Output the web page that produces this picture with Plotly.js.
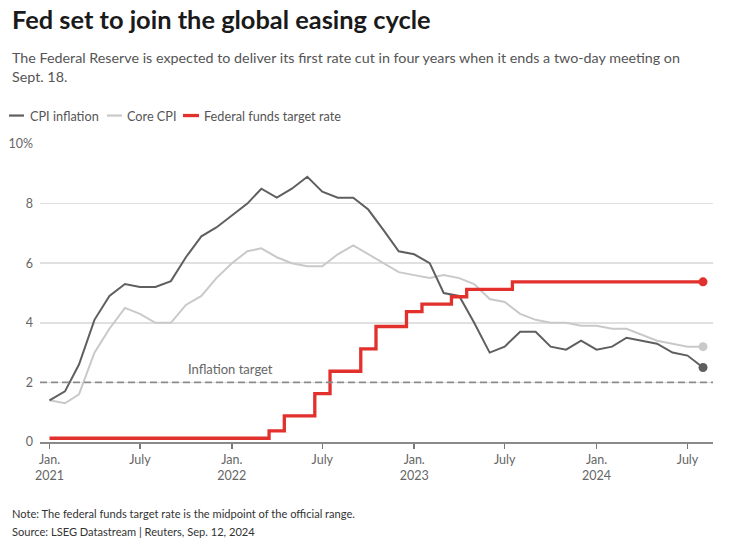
<!DOCTYPE html>
<html>
<head>
<meta charset="utf-8">
<script src="https://cdn.plot.ly/plotly-3.0.1.min.js"></script>
<style>
html,body{margin:0;padding:0;background:#fff;}
#chart{width:755px;height:548px;}
</style>
</head>
<body>
<div id="chart"></div>
<script>
const months = [
  "2021-01-01","2021-02-01","2021-03-01","2021-04-01","2021-05-01","2021-06-01",
  "2021-07-01","2021-08-01","2021-09-01","2021-10-01","2021-11-01","2021-12-01",
  "2022-01-01","2022-02-01","2022-03-01","2022-04-01","2022-05-01","2022-06-01",
  "2022-07-01","2022-08-01","2022-09-01","2022-10-01","2022-11-01","2022-12-01",
  "2023-01-01","2023-02-01","2023-03-01","2023-04-01","2023-05-01","2023-06-01",
  "2023-07-01","2023-08-01","2023-09-01","2023-10-01","2023-11-01","2023-12-01",
  "2024-01-01","2024-02-01","2024-03-01","2024-04-01","2024-05-01","2024-06-01",
  "2024-07-01","2024-08-01"
];
const cpiInflation = [
  1.4, 1.7, 2.6, 4.1, 4.9, 5.3, 5.2, 5.2, 5.4, 6.2, 6.9, 7.2,
  7.6, 8.0, 8.5, 8.2, 8.5, 8.9, 8.4, 8.2, 8.2, 7.8, 7.1, 6.4,
  6.3, 6.0, 5.0, 4.9, 4.0, 3.0, 3.2, 3.7, 3.7, 3.2, 3.1, 3.4,
  3.1, 3.2, 3.5, 3.4, 3.3, 3.0, 2.9, 2.5
];
const coreCpi = [
  1.4, 1.3, 1.6, 3.0, 3.8, 4.5, 4.3, 4.0, 4.0, 4.6, 4.9, 5.5,
  6.0, 6.4, 6.5, 6.2, 6.0, 5.9, 5.9, 6.3, 6.6, 6.3, 6.0, 5.7,
  5.6, 5.5, 5.6, 5.5, 5.3, 4.8, 4.7, 4.3, 4.1, 4.0, 4.0, 3.9,
  3.9, 3.8, 3.8, 3.6, 3.4, 3.3, 3.2, 3.2
];
const fedFundsRate = [
  0.125, 0.125, 0.125, 0.125, 0.125, 0.125, 0.125, 0.125, 0.125, 0.125, 0.125, 0.125,
  0.125, 0.125, 0.125, 0.375, 0.875, 0.875, 1.625, 2.375, 2.375, 3.125, 3.875, 3.875,
  4.375, 4.625, 4.625, 4.875, 5.125, 5.125, 5.125, 5.375, 5.375, 5.375, 5.375, 5.375,
  5.375, 5.375, 5.375, 5.375, 5.375, 5.375, 5.375, 5.375
];
const inflationTarget = 2;
const xTickVals = ["2021-01-01","2021-07-01","2022-01-01","2022-07-01","2023-01-01","2023-07-01","2024-01-01","2024-07-01"];
const xTickText = ["Jan.<br>2021","July","Jan.<br>2022","July","Jan.<br>2023","July","Jan.<br>2024","July"];
const yTickVals = [0, 2, 4, 6, 8, 10];
const yTickText = ["0", "2", "4", "6", "8", "10%"];

const C_CPI = "#5f5f5f", C_CORE = "#c9c9c9", C_FED = "#e2302c";
const FONT = "Lato, 'Source Sans Pro', sans-serif";

// pixel helpers for the 755x548 canvas
const PL = 40, PR = 713, PT = 143.5, PB = 442;
const px = v => (v - PL) / (PR - PL);
const py = v => (PB - v) / (PB - PT);

function lastOnly(arr){ return arr.map((v,i)=> i===arr.length-1 ? v : null); }

const traces = [
  {x: months, y: coreCpi, type: "scatter", mode: "lines", line: {color: C_CORE, width: 2}, hoverinfo: "skip"},
  {x: months, y: cpiInflation, type: "scatter", mode: "lines", line: {color: C_CPI, width: 2}, hoverinfo: "skip"},
  {x: months, y: fedFundsRate, type: "scatter", mode: "lines", line: {color: C_FED, width: 3.3, shape: "hvh"}, hoverinfo: "skip"},
  {x: months, y: lastOnly(coreCpi), type: "scatter", mode: "markers", marker: {color: C_CORE, size: 9}, hoverinfo: "skip"},
  {x: months, y: lastOnly(cpiInflation), type: "scatter", mode: "markers", marker: {color: C_CPI, size: 9}, hoverinfo: "skip"},
  {x: months, y: lastOnly(fedFundsRate), type: "scatter", mode: "markers", marker: {color: C_FED, size: 9}, hoverinfo: "skip"}
];

const legendItems = [
  {label: "CPI inflation", color: C_CPI, x0: 9, x1: 24, tx: 28, w: 2.2},
  {label: "Core CPI", color: C_CORE, x0: 107, x1: 122, tx: 125, w: 2.2},
  {label: "Federal funds target rate", color: C_FED, x0: 183, x1: 199, tx: 202, w: 3.3}
];

const shapes = [
  {type: "line", xref: "paper", yref: "y", x0: 0, x1: 1, y0: inflationTarget, y1: inflationTarget,
   line: {color: "#8c8c8c", width: 1.7, dash: "7px,4px"}, layer: "above"}
];
const annotations = [
  {xref: "paper", yref: "paper", x: px(10), y: py(18), xanchor: "left", yanchor: "middle",
   text: "<b>Fed set to join the global easing cycle</b>", showarrow: false,
   font: {family: FONT, size: 25.4, color: "#1a1a1a"}},
  {xref: "paper", yref: "paper", x: px(10), y: py(66), xanchor: "left", yanchor: "middle", align: "left",
   text: "The Federal Reserve is expected to deliver its first rate cut in four years when it ends a two-day meeting on<br>Sept. 18.",
   showarrow: false, font: {family: FONT, size: 14.3, color: "#555555"}},
  {xref: "paper", yref: "y", x: px(230), y: inflationTarget, xanchor: "center", yanchor: "bottom", yshift: 3,
   text: "Inflation target", showarrow: false, font: {family: FONT, size: 13, color: "#666666"}},
  {xref: "paper", yref: "paper", x: px(10), y: py(514), xanchor: "left", yanchor: "middle",
   text: "Note: The federal funds target rate is the midpoint of the official range.", showarrow: false,
   font: {family: FONT, size: 11.1, color: "#333333"}},
  {xref: "paper", yref: "paper", x: px(10), y: py(532), xanchor: "left", yanchor: "middle",
   text: "Source: LSEG Datastream | Reuters, Sep. 12, 2024", showarrow: false,
   font: {family: FONT, size: 11.1, color: "#333333"}}
];
legendItems.forEach(it => {
  shapes.push({type: "line", xref: "paper", yref: "paper", x0: px(it.x0), x1: px(it.x1), y0: py(115), y1: py(115),
    line: {color: it.color, width: it.w}});
  annotations.push({xref: "paper", yref: "paper", x: px(it.tx), y: py(115), xanchor: "left", yanchor: "middle",
    text: it.label, showarrow: false, font: {family: FONT, size: 12.7, color: "#555555"}});
});

const layout = {
  width: 755, height: 548,
  margin: {l: PL, r: 755 - PR, t: PT, b: 548 - PB, pad: 0},
  paper_bgcolor: "#ffffff", plot_bgcolor: "#ffffff",
  showlegend: false,
  font: {family: FONT, color: "#666666"},
  xaxis: {
    type: "date", range: ["2020-12-13", "2024-08-21"],
    tickvals: xTickVals, ticktext: xTickText,
    ticks: "outside", ticklen: 5, tickwidth: 1.5, tickcolor: "#777777",
    showgrid: false, zeroline: false, showline: true, linecolor: "#8a8a8a", linewidth: 1.5,
    tickfont: {family: FONT, size: 12.5, color: "#666666"}, fixedrange: true
  },
  yaxis: {
    range: [0, 10], tickvals: yTickVals, ticktext: yTickText,
    showgrid: true, gridcolor: "#e0e0e0", gridwidth: 1.5, zeroline: false, showline: false,
    ticks: "", ticklabelstandoff: 6,
    tickfont: {family: FONT, size: 12.5, color: "#666666"}, fixedrange: true
  },
  shapes: shapes,
  annotations: annotations
};

Plotly.newPlot("chart", traces, layout, {displayModeBar: false, staticPlot: true});
</script>
</body>
</html>
